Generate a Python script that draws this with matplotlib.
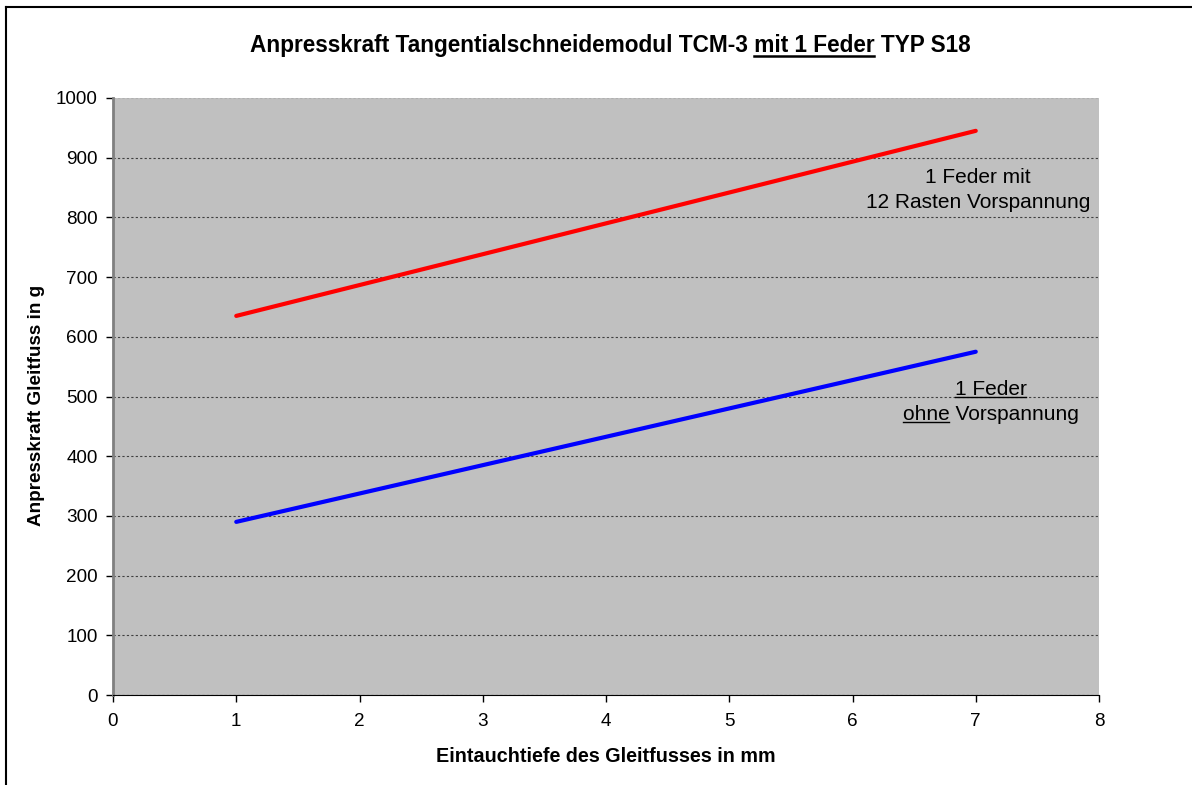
import matplotlib
matplotlib.use("Agg")
import matplotlib.pyplot as plt
from matplotlib.lines import Line2D

plt.rcParams['font.family'] = ['Liberation Sans', 'DejaVu Sans']

# Data
depth = [1, 7]
force_12_rasten = [635, 945]
force_ohne = [290, 575]
x_ticks = [0, 1, 2, 3, 4, 5, 6, 7, 8]
y_ticks = [0, 100, 200, 300, 400, 500, 600, 700, 800, 900, 1000]

fig = plt.figure(figsize=(11.92, 7.85), dpi=100)
ax = fig.add_axes([113 / 1192, 1 - 695 / 785, (1099 - 113) / 1192, (695 - 98) / 785])
ax.set_facecolor('#C0C0C0')

ax.plot(depth, force_12_rasten, color='#FF0000', lw=3, solid_capstyle='round')
ax.plot(depth, force_ohne, color='#0000FF', lw=3, solid_capstyle='round')

ax.set_xlim(0, 8)
ax.set_ylim(0, 1000)
ax.set_xticks(x_ticks)
ax.set_yticks(y_ticks)
ax.tick_params(labelsize=13.6, direction='out', length=5, width=1)
ax.tick_params(axis='y', pad=6)
ax.tick_params(axis='x', pad=8)
ax.yaxis.grid(True, color='#404040', linestyle=(0, (2, 2)), lw=0.8)
ax.get_ygridlines()[-1].set_color('#B0B0B0')
ax.set_axisbelow(True)
for s in ['top', 'right']:
    ax.spines[s].set_visible(False)
ax.spines['left'].set_color('#808080')
ax.spines['left'].set_linewidth(2)
ax.spines['bottom'].set_color('black')

ax.set_xlabel('Eintauchtiefe des Gleitfusses in mm', fontsize=14.2, fontweight='bold', va='center')
ax.set_ylabel('Anpresskraft Gleitfuss in g', fontsize=13.6, fontweight='bold', va='center')
ax.xaxis.set_label_coords(0.5, (695 - 757) / 597)
ax.yaxis.set_label_coords((37 - 113) / 986, (695 - 405) / 597)

renderer = fig.canvas.get_renderer()
inv = fig.transFigure.inverted()


def width_of(text_obj, s):
    t = fig.text(0, 0, s, fontsize=text_obj.get_fontsize(), fontweight=text_obj.get_fontweight())
    w = t.get_window_extent(renderer).width
    t.remove()
    return w


def underline(text_obj, start, stop, offset=3, lw=1.0):
    s = text_obj.get_text()
    bb = text_obj.get_window_extent(renderer)
    x0 = bb.x1 - width_of(text_obj, s[start:])
    x1 = x0 + width_of(text_obj, s[start:stop])
    base = text_obj.get_transform().transform(text_obj.get_position())[1]
    (fx0, fy), (fx1, _) = inv.transform([(x0, base - offset), (x1, base - offset)])
    fig.add_artist(Line2D([fx0, fx1], [fy, fy], color='black', lw=lw))


title = 'Anpresskraft Tangentialschneidemodul TCM-3 mit 1 Feder TYP S18'
t = fig.text(610 / 1192, 1 - 52 / 785, title, ha='center', va='baseline', fontsize=16.3, fontweight='bold')
i = title.index('mit 1 Feder')
underline(t, i, i + len('mit 1 Feder'), offset=3.5, lw=1.8)

a1 = ax.text(7.02, 858, '1 Feder mit', ha='center', va='baseline', fontsize=15)
a2 = ax.text(7.02, 816, '12 Rasten Vorspannung', ha='center', va='baseline', fontsize=15)
b1 = ax.text(7.12, 502, '1 Feder', ha='center', va='baseline', fontsize=15)
b2 = ax.text(7.12, 460, 'ohne Vorspannung', ha='center', va='baseline', fontsize=15)
underline(b1, 0, len('1 Feder'), offset=2)
underline(b2, 0, len('ohne'), offset=2)

# outer frame (top and left edges visible)
fig.add_artist(Line2D([6 / 1192, 1], [1 - 7 / 785, 1 - 7 / 785], color='black', lw=1.5))
fig.add_artist(Line2D([6 / 1192, 6 / 1192], [0, 1 - 7 / 785], color='black', lw=1.5))

fig.savefig('out.png', dpi=100)
